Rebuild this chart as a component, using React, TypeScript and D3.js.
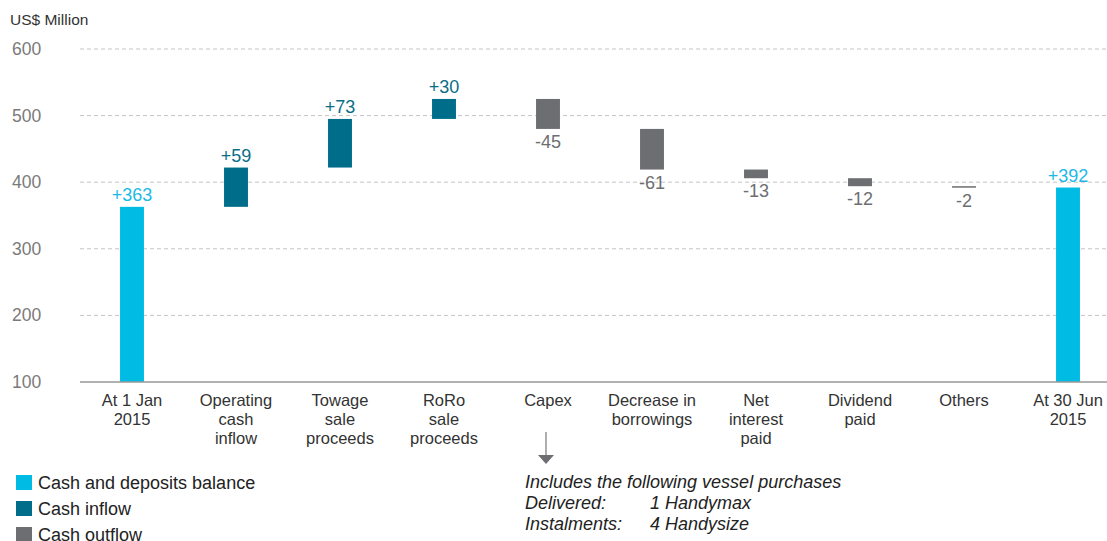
import React from "react";
import * as d3 from "d3";

const categories = [
  ["At 1 Jan", "2015"],
  ["Operating", "cash", "inflow"],
  ["Towage", "sale", "proceeds"],
  ["RoRo", "sale", "proceeds"],
  ["Capex"],
  ["Decrease in", "borrowings"],
  ["Net", "interest", "paid"],
  ["Dividend", "paid"],
  ["Others"],
  ["At 30 Jun", "2015"],
];
const changes = [363, 59, 73, 30, -45, -61, -13, -12, -2, 392];
const kinds = ["balance", "in", "in", "in", "out", "out", "out", "out", "out", "balance"];
const yTicks = [100, 200, 300, 400, 500, 600];
const legendItems = [
  { kind: "balance", label: "Cash and deposits balance" },
  { kind: "in", label: "Cash inflow" },
  { kind: "out", label: "Cash outflow" },
];
const noteLines = [
  ["Includes the following vessel purchases", ""],
  ["Delivered:", "1 Handymax"],
  ["Instalments:", "4 Handysize"],
];

const colors: Record<string, string> = {
  balance: "#00BCE4",
  in: "#006E8A",
  out: "#6D6E71",
};
const labelColors: Record<string, string> = {
  balance: "#1CB9E6",
  in: "#0A6E88",
  out: "#6D6E71",
};

export default function App() {
  const W = 1107, H = 541;
  const font = "Arial, 'Liberation Sans', Helvetica, sans-serif";
  const x = d3.scaleBand<number>().domain(d3.range(categories.length)).range([80, 1120]).paddingInner(0.77).paddingOuter(0.385);
  const y = d3.scaleLinear().domain([100, 600]).range([382, 49]);

  let run = 0;
  const bars = changes.map((v, i) => {
    let lo: number, hi: number;
    if (kinds[i] === "balance") {
      lo = 100; hi = v; run = v;
    } else {
      const s = run; run = run + v;
      lo = Math.min(s, run); hi = Math.max(s, run);
    }
    return { i, v, lo, hi, kind: kinds[i] };
  });

  const capexX = x(4)! + x.bandwidth() / 2;

  return (
    <svg width={W} height={H} style={{ position: "absolute", left: 0, top: 0, fontFamily: font }}>
      <text x={10} y={25} fontSize={15.5} fill="#333">US$ Million</text>
      {yTicks.map((t) => (
        <g key={t}>
          <text x={12} y={y(t) + 6} fontSize={17.5} fill="#7a7a7a">{t}</text>
          {t !== 100 && (
            <line x1={80} x2={1107} y1={y(t)} y2={y(t)} stroke="#c4c4c4" strokeDasharray="4,3" strokeWidth={1} />
          )}
        </g>
      ))}
      {bars.map((b) => (
        <rect key={b.i} x={x(b.i)} width={x.bandwidth()} y={y(b.hi)} height={Math.max(1.5, y(b.lo) - y(b.hi))} fill={colors[b.kind]} />
      ))}
      <line x1={80} x2={1107} y1={y(100)} y2={y(100)} stroke="#999" strokeWidth={1.5} />
      {bars.map((b) => {
        const cx = x(b.i)! + x.bandwidth() / 2;
        const txt = b.v > 0 ? `+${b.v}` : `${b.v}`;
        const ty = b.v > 0 ? y(b.hi) - 6 : y(b.lo) + 19;
        return (
          <text key={b.i} x={cx} y={ty} textAnchor="middle" fontSize={18} fill={labelColors[b.kind]}>{txt}</text>
        );
      })}
      {categories.map((lines, i) => {
        const cx = x(i)! + x.bandwidth() / 2;
        return (
          <text key={i} x={cx} y={406} textAnchor="middle" fontSize={16.5} fill="#333">
            {lines.map((l, j) => (
              <tspan key={j} x={cx} dy={j === 0 ? 0 : 19}>{l}</tspan>
            ))}
          </text>
        );
      })}
      <line x1={capexX - 2} x2={capexX - 2} y1={432} y2={456} stroke="#777" strokeWidth={1.2} />
      <path d={`M${capexX - 10},${455} L${capexX + 6},${455} L${capexX - 2},${464} Z`} fill="#6D6E71" />
      {noteLines.map((l, i) => (
        <g key={i}>
          <text x={525} y={488 + i * 21} fontSize={18} fontStyle="italic" fill="#222">{l[0]}</text>
          {l[1] && <text x={650} y={488 + i * 21} fontSize={18} fontStyle="italic" fill="#222">{l[1]}</text>}
        </g>
      ))}
      {legendItems.map((it, i) => (
        <g key={it.kind}>
          <rect x={16} y={475 + i * 26} width={16} height={15} fill={colors[it.kind]} />
          <text x={38} y={489 + i * 26} fontSize={18} fill="#222">{it.label}</text>
        </g>
      ))}
    </svg>
  );
}
